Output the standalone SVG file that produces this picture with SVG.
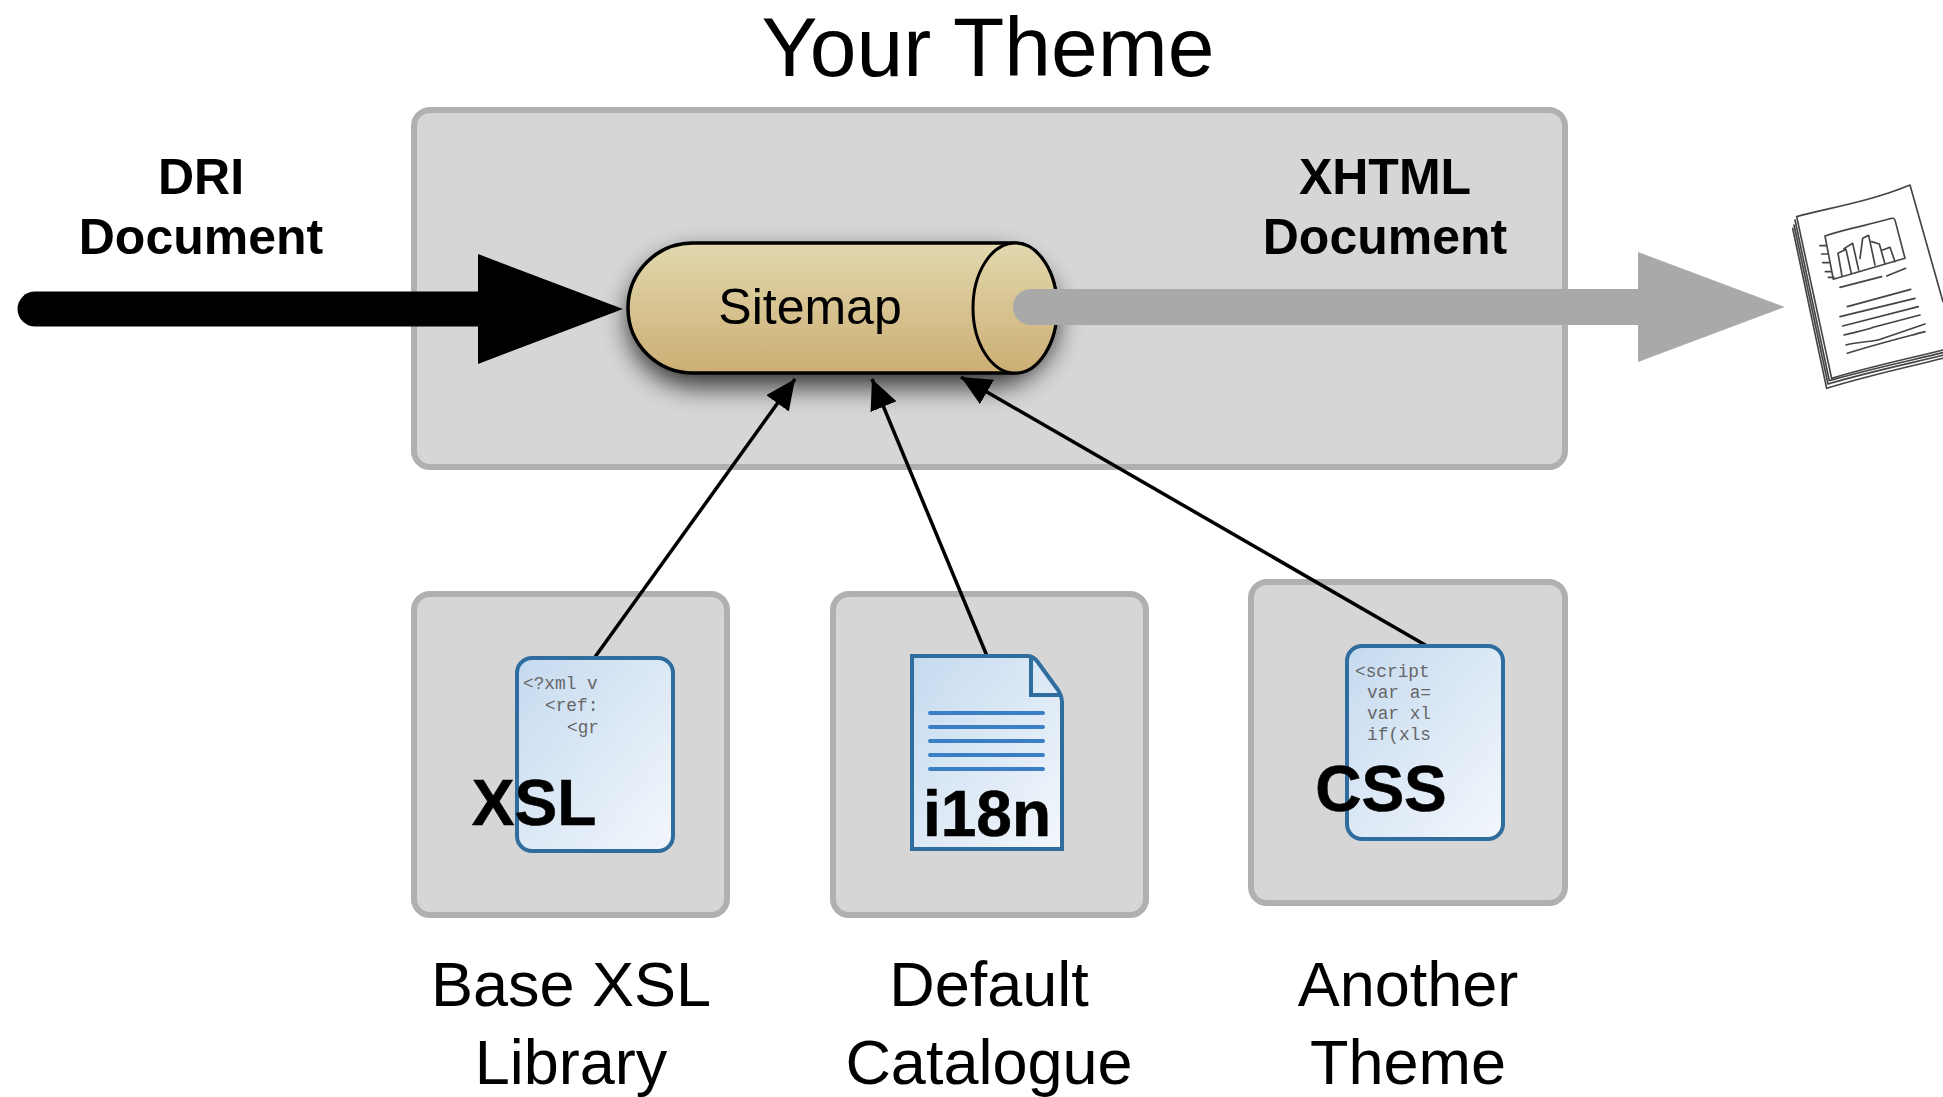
<svg xmlns="http://www.w3.org/2000/svg" width="1943" height="1097" viewBox="0 0 1943 1097">
<style>
.box{fill:#d6d6d6;stroke:#b0b0b0;stroke-width:6}
.t{font-family:"Helvetica Neue","Liberation Sans",Arial,sans-serif;fill:#000}
.big{font-size:84px;text-anchor:middle}
.lab{font-size:50px;font-weight:700;text-anchor:middle}
.cap{font-size:63px;text-anchor:middle}
.code{font-family:"Liberation Mono","DejaVu Sans Mono",monospace;font-size:17.8px;fill:#666;white-space:pre}
.badge{font-size:64px;font-weight:700;text-anchor:middle;stroke:#000;stroke-width:.6}
.doc{fill:url(#docg);stroke:#2f6d9f;stroke-width:4}
.ln{stroke:#3a7fc4;stroke-width:4;stroke-linecap:round;fill:none}
.conn{stroke:#000;stroke-width:3.5;fill:none;marker-end:url(#ah)}
.sk{fill:none;stroke:#444;stroke-width:5;stroke-linecap:round;stroke-linejoin:round}
</style>
<defs>
<linearGradient id="cyl" x1="0" y1="0" x2="0" y2="1"><stop offset="0" stop-color="#e2d8ae"/><stop offset="1" stop-color="#ccae74"/></linearGradient>
<linearGradient id="docg" x1="0" y1="0" x2="1" y2="1"><stop offset="0" stop-color="#c5daef"/><stop offset="1" stop-color="#f3f7fc"/></linearGradient>
<filter id="sh" x="-15%" y="-40%" width="130%" height="190%"><feGaussianBlur stdDeviation="13"/></filter>
<filter id="soft" x="-5%" y="-5%" width="110%" height="110%"><feGaussianBlur stdDeviation="1.5"/></filter>
<marker id="ah" markerUnits="userSpaceOnUse" markerWidth="34" markerHeight="32" refX="30" refY="14" orient="auto"><path d="M0 0L30 14L0 28z" fill="#000"/></marker>
</defs>
<rect width="1943" height="1097" fill="#fff"/>
<text class="t big" x="988" y="76">Your Theme</text>
<g id="theme"><rect class="box" x="414" y="110" width="1151" height="357" rx="16"/></g>
<g id="xsl-box"><rect class="box" x="414" y="594" width="313" height="321" rx="16"/></g>
<g id="i18n-box"><rect class="box" x="833" y="594" width="313" height="321" rx="16"/></g>
<g id="css-box"><rect class="box" x="1251" y="582" width="314" height="321" rx="16"/></g>

<g id="dri-label"><text class="t lab" x="201" y="194">DRI</text><text class="t lab" x="201" y="254">Document</text></g>
<g id="xhtml-label"><text class="t lab" x="1385" y="194">XHTML</text><text class="t lab" x="1385" y="254">Document</text></g>

<g id="sitemap">
<rect x="628" y="253" width="429" height="134" rx="70" ry="65" fill="#000" opacity="0.75" filter="url(#sh)"/>
<path d="M693 243H1015C1038 243 1057 272 1057 308S1038 373 1015 373H693C657 373 628 344 628 308S657 243 693 243Z" fill="url(#cyl)" stroke="#000" stroke-width="3.5"/>
<ellipse cx="1015" cy="308" rx="42" ry="65" fill="url(#cyl)" stroke="#000" stroke-width="3"/>
<text class="t" x="810" y="324" font-size="50" text-anchor="middle">Sitemap</text>
</g>

<g id="connectors">
<path d="M35 309H478" stroke="#000" stroke-width="35" stroke-linecap="round" fill="none"/>
<path d="M478 254L623 309L478 364Z" fill="#000"/>
<path d="M1031 307H1638" stroke="#a9a9a9" stroke-width="36" stroke-linecap="butt" fill="none"/>
<circle cx="1031" cy="307" r="18" fill="#a9a9a9"/>
<path d="M1638 252L1785 307L1638 362Z" fill="#a9a9a9"/>
<path class="conn" d="M595 657L795 379"/>
<path class="conn" d="M987 656L872 379"/>
<path class="conn" d="M1427 646L961 377"/>
</g>

<g id="xsl-doc">
<rect class="doc" x="517" y="658" width="156" height="193" rx="15"/>
<text class="code" x="523" y="689">&lt;?xml v</text>
<text class="code" x="545" y="711">&lt;ref:</text>
<text class="code" x="567" y="733">&lt;gr</text>
<text class="t badge" x="534" y="825">XSL</text>
</g>

<g id="i18n-doc">
<path class="doc" d="M912 656H1027Q1033 656 1037 661L1058 690Q1062 696 1062 703V849H912Z"/>
<path class="doc" d="M1031 657V695H1060" style="fill:none"/>
<path class="ln" d="M930 713H1043M930 727H1043M930 741H1043M930 755H1043M930 769H1043"/>
<text class="t badge" x="987" y="836">i18n</text>
</g>

<g id="css-doc">
<rect class="doc" x="1347" y="646" width="156" height="193" rx="15"/>
<text class="code" x="1355" y="677">&lt;script</text>
<text class="code" x="1367" y="698">var a=</text>
<text class="code" x="1367" y="719">var xl</text>
<text class="code" x="1367" y="740">if(xls</text>
<text class="t badge" x="1381" y="811">CSS</text>
</g>

<g id="captions">
<text class="t cap" x="571" y="1006">Base XSL</text><text class="t cap" x="571" y="1084">Library</text>
<text class="t cap" x="989" y="1006">Default</text><text class="t cap" x="989" y="1084">Catalogue</text>
<text class="t cap" x="1408" y="1006">Another</text><text class="t cap" x="1408" y="1084">Theme</text>
</g>

<g id="paper" transform="translate(1760 170) scale(.3333)" filter="url(#soft)">
<path d="M110 140L450 45L549 395V540L215 625Z" fill="#fff"/>
<path class="sk" d="M110 140C200 115 330 95 450 45L549 395M110 140L215 625C330 590 450 565 549 540M105 150L208 632C330 597 450 572 549 548M102 165L204 642C330 605 450 580 549 556M98 175L200 655C330 615 450 590 549 565"/>
<path class="sk" d="M195 198C260 175 330 165 395 145C405 143 405 150 407 158L435 265L220 328Z"/>
<path class="sk" d="M180 227H198M185 252H204M188 278H208M196 305H214M205 322H222"/>
<path class="sk" d="M246 318L234 250L258 238L274 310M252 236L278 220L296 300M300 265L308 205L326 196L345 285M335 215L358 222L375 282M368 240L390 232L405 275"/>
<path class="sk" d="M240 352L365 320M380 318L437 295M262 410L452 358M240 440L465 385M248 468L475 410M252 495C290 485 320 480 340 472L480 435M258 525C300 512 345 518 370 505L495 462M262 550C340 525 420 505 495 485"/>
</g>
</svg>
